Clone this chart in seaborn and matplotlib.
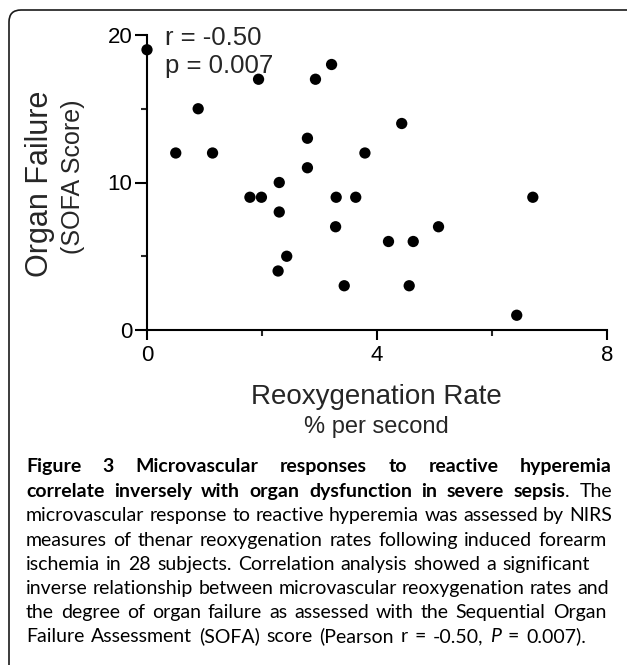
import matplotlib
matplotlib.use("Agg")
import matplotlib.pyplot as plt
import seaborn as sns
import pandas as pd
from matplotlib.patches import FancyBboxPatch

# ---------------- data ----------------
reox_rate = [0.00, 0.50, 0.89, 1.14, 1.94, 1.79, 1.99, 2.30, 2.30, 2.79, 2.79,
             2.93, 3.21, 3.29, 3.63, 3.79, 4.43, 3.28, 4.20, 4.63, 5.07, 3.43,
             4.56, 6.43, 6.71, 2.43, 2.28]
sofa_score = [19, 12, 15, 12, 17, 9, 9, 10, 8, 13, 11, 17, 18, 9, 9, 12, 14, 7,
              6, 6, 7, 3, 3, 1, 9, 5, 4]
x_major = [0, 4, 8]
x_minor = [2, 6]
y_major = [0, 10, 20]
y_minor = [5, 15]
stats_text = ["r = -0.50", "p = 0.007"]
y_title = "Organ Failure"
y_subtitle = "(SOFA Score)"
x_title = "Reoxygenation Rate"
x_subtitle = "% per second"

caption_runs = [
    [("Figure 3 Microvascular responses to reactive hyperemia", "bold")],
    [("correlate inversely with organ dysfunction in severe sepsis", "bold"), (". The", "normal")],
    [("microvascular response to reactive hyperemia was assessed by NIRS", "normal")],
    [("measures of thenar reoxygenation rates following induced forearm", "normal")],
    [("ischemia in 28 subjects. Correlation analysis showed a significant", "normal")],
    [("inverse relationship between microvascular reoxygenation rates and", "normal")],
    [("the degree of organ failure as assessed with the Sequential Organ", "normal")],
    [("Failure Assessment (SOFA) score (Pearson r = -0.50, ", "normal"), ("P", "italic"),
     (" = 0.007).", "normal")],
]

df = pd.DataFrame({"rate": reox_rate, "sofa": sofa_score})

# ---------------- figure ----------------
sns.set_style("ticks")
plt.rcParams["font.family"] = ["Liberation Sans", "DejaVu Sans"]

W, H = 627, 665
fig = plt.figure(figsize=(W / 100, H / 100), dpi=100)


def fx(px):
    return px / W


def fy(py):
    return 1 - py / H


# rounded frame (cut at right and bottom)
frame = FancyBboxPatch((0.09, -0.5), 7.0, 6.55 + 0.5, transform=fig.dpi_scale_trans,
                       boxstyle="round,pad=0,rounding_size=0.12", fill=False,
                       edgecolor="#1a1a1a", linewidth=1.2)
fig.patches.append(frame)

ax = fig.add_axes([fx(147), fy(330), (607 - 147) / W, (330 - 35) / H])
sns.scatterplot(data=df, x="rate", y="sofa", ax=ax, s=66, color="black",
                edgecolor="none", linewidth=0, clip_on=False, legend=False, zorder=5)
ax.set_xlim(0, 8)
ax.set_ylim(0, 20)
ax.set_xticks(x_major)
ax.set_xticks(x_minor, minor=True)
ax.set_yticks(y_major)
ax.set_yticks(y_minor, minor=True)
ax.set_xticklabels([str(v) for v in x_major])
ax.set_yticklabels([str(v) for v in y_major])
ax.set_xlabel("")
ax.set_ylabel("")
for s in ["top", "right"]:
    ax.spines[s].set_visible(False)
for s in ["left", "bottom"]:
    ax.spines[s].set_linewidth(1.5)
    ax.spines[s].set_color("black")
ax.tick_params(axis="both", which="major", width=1.5, labelsize=16, colors="black")
ax.tick_params(axis="x", which="major", length=7.5, pad=3)
ax.tick_params(axis="y", which="major", length=8.5, pad=2)
ax.tick_params(axis="both", which="minor", width=1.5, length=4.5)
ax.set_facecolor("white")

# stats text
fig.text(fx(165), fy(45), stats_text[0], fontsize=18.5, va="baseline", ha="left")
fig.text(fx(165), fy(73), stats_text[1], fontsize=18.5, va="baseline", ha="left")

# axis titles
fig.text(fx(40), fy(184), y_title, fontsize=22, rotation=90, ha="center", va="center")
fig.text(fx(73), fy(177), y_subtitle, fontsize=18, rotation=90, ha="center", va="center")
fig.text(fx(376), fy(404), x_title, fontsize=20, ha="center", va="baseline")
fig.text(fx(376), fy(433), x_subtitle, fontsize=17, ha="center", va="baseline")

# ---------------- caption (justified lines) ----------------
cap_family = ["Lato", "DejaVu Sans"]
left_px = 26
right_px = [612, 612, 612, 607, 590, 609, 606, 586]
base_px = [472, 497, 521, 546, 570, 594, 618, 642]


def style_kw(st):
    if st == "bold":
        return dict(fontweight="bold", fontstyle="normal")
    if st == "italic":
        return dict(fontweight="normal", fontstyle="italic")
    return dict(fontweight="normal", fontstyle="normal")


def split_words(runs):
    chars = []
    for txt, st in runs:
        for c in txt:
            chars.append((c, st))
    words, cur = [], []
    for c, st in chars:
        if c == " ":
            if cur:
                words.append(cur)
                cur = []
        else:
            if cur and cur[-1][1] == st:
                cur[-1] = (cur[-1][0] + c, st)
            else:
                cur.append((c, st))
    if cur:
        words.append(cur)
    return words


renderer = fig.canvas.get_renderer()


def measure(txt, st, size):
    t = fig.text(0, 0, txt, fontsize=size, family=cap_family, **style_kw(st))
    w = t.get_window_extent(renderer).width
    t.remove()
    return w


lines_words = [split_words(r) for r in caption_runs]
base_size = 12.0
space_w = (measure("a a", "normal", base_size) - measure("aa", "normal", base_size))

# regular size: fit the plain body lines
factors = []
for words, rp in list(zip(lines_words, right_px))[2:]:
    tot = sum(measure(seg, st, base_size) for w in words for seg, st in w)
    nat = tot + space_w * (len(words) - 1)
    factors.append((rp - left_px) / nat)
reg_size = base_size * min(factors) * 0.995

# bold size: fit line 2 (bold + a short regular tail)
words2 = lines_words[1]
reg_part = sum(measure(seg, st, reg_size) for w in words2 for seg, st in w if st != "bold")
bold_part = sum(measure(seg, st, base_size) for w in words2 for seg, st in w if st == "bold")
spaces2 = space_w * reg_size / base_size * (len(words2) - 1)
bold_size = min(reg_size, base_size * (right_px[1] - left_px - reg_part - spaces2) / bold_part * 0.995)

size_of = {"bold": bold_size, "normal": reg_size, "italic": reg_size}

for words, rp, bp in zip(lines_words, right_px, base_px):
    widths = [[measure(seg, st, size_of[st]) for seg, st in w] for w in words]
    total = sum(sum(ws) for ws in widths)
    gap = (rp - left_px - total) / max(len(words) - 1, 1)
    x = left_px
    for w, ws in zip(words, widths):
        for (seg, st), sw in zip(w, ws):
            fig.text(fx(x), fy(bp), seg, fontsize=size_of[st], family=cap_family,
                     ha="left", va="baseline", color="black", **style_kw(st))
            x += sw
        x += gap

fig.savefig("out.png", dpi=100, facecolor="white")
